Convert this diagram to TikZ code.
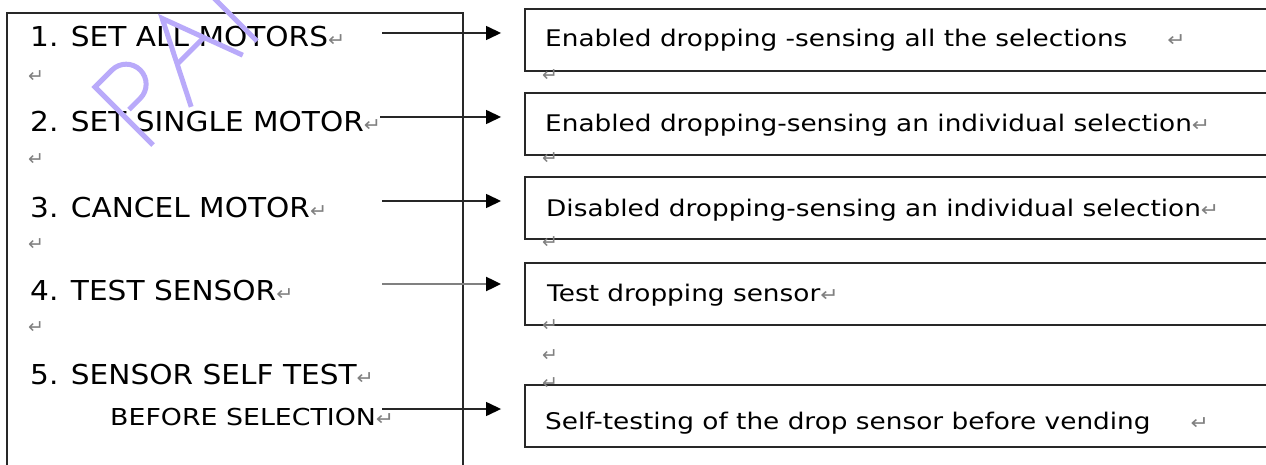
\documentclass[tikz,border=0pt]{standalone}
\usepackage{fontspec}
\setmainfont{DejaVu Sans}
\newfontfamily\lefttxt[FakeStretch=1.08]{DejaVu Sans}
\newfontfamily\righttxt[FakeStretch=1.15]{DejaVu Sans}
\usetikzlibrary{arrows.meta}
\definecolor{wm}{RGB}{185,170,250}
\definecolor{retgray}{RGB}{128,128,128}
\definecolor{boxline}{RGB}{40,40,40}
\newcommand\retmark{{\color{retgray}\fontsize{19}{19}\selectfont ↵}}
\begin{document}
\begin{tikzpicture}[x=1pt,y=-1pt,
  lt/.style={anchor=base west,inner sep=0pt,font=\lefttxt\fontsize{27.4}{30}\selectfont,text=black},
  st/.style={anchor=base west,inner sep=0pt,font=\righttxt\fontsize{23.3}{26}\selectfont,text=black},
  rt/.style={anchor=base west,inner sep=0pt,font=\righttxt\fontsize{22.9}{26}\selectfont,text=black},
  rm/.style={anchor=west,inner sep=0pt,font=\fontsize{19}{19}\selectfont,text=retgray},
  rbox/.style={draw=boxline,line width=1.9pt,minimum width=765pt,minimum height=62pt,inner sep=0pt},
  arr/.style={draw=black!85,line width=1.4pt,-{Triangle[length=15pt,width=14pt,color=black]},shorten >=23pt},
  wmline/.style={draw=wm,line width=5pt}]
\useasboundingbox (0,0) rectangle (1266,465);
\clip (0,0) rectangle (1266,465);
% left menu box
\node[draw=boxline,line width=1.9pt,minimum width=456pt,minimum height=467pt,inner sep=0pt] (menu) at (235,246.5) {};
\node[lt] (m1) at (30,47) {1. SET ALL MOTORS\retmark};
\node[rm] (n1) at (28,77) {↵};
\node[lt] (m2) at (30,132) {2. SET SINGLE MOTOR\retmark};
\node[rm] (n2) at (28,160) {↵};
\node[lt] (m3) at (30,218) {3. CANCEL MOTOR\retmark};
\node[rm] (n3) at (28,245) {↵};
\node[lt] (m4) at (30,300) {4. TEST SENSOR\retmark};
\node[rm] (n4) at (28,328) {↵};
\node[lt] (m5) at (30,384) {5. SENSOR SELF TEST\retmark};
\node[st] (m6) at (110,425) {BEFORE SELECTION\retmark};
% right boxes
\node[rbox] (r1) at (907.5,40) {};
\node[rbox] (r2) at (907.5,124) {};
\node[rbox] (r3) at (907.5,208) {};
\node[rbox] (r4) at (907.5,294) {};
\node[rbox] (r5) at (907.5,416) {};
\node[rt] (t1) at (545,47) {Enabled dropping -sensing all the selections\hspace{40pt}\retmark};
\node[rt] (t2) at (545,132) {Enabled dropping-sensing an individual selection\retmark};
\node[rt] (t3) at (546,217) {Disabled dropping-sensing an individual selection\retmark};
\node[rt] (t4) at (547,301) {Test dropping sensor\retmark};
\node[rt] (t5) at (545,429) {Self-testing of the drop sensor before vending\hspace{40pt}\retmark};
\node[rm] (k1) at (542,76) {↵};
\node[rm] (k2) at (542,159) {↵};
\node[rm] (k3) at (542,243) {↵};
\node[rm] (k4) at (542,326) {↵};
\node[rm] (k5) at (542,356) {↵};
\node[rm] (k6) at (542,384) {↵};
% arrows
\coordinate (s1) at (382,33);
\coordinate (s2) at (380,117);
\coordinate (s3) at (382,201);
\coordinate (s4) at (382,284);
\coordinate (s5) at (382,409);
\draw[arr] (s1) -- (s1 -| r1.west);
\draw[arr] (s2) -- (s2 -| r2.west);
\draw[arr] (s3) -- (s3 -| r3.west);
\draw[arr,draw=black!50,line width=2.2pt] (s4) -- (s4 -| r4.west);
\draw[arr] (s5) -- (s5 -| r5.west);
% watermark
\begin{scope}[shift={(153,145)},x={(0.7071pt,0.7071pt)},y={(-0.7071pt,0.7071pt)}]
  \draw[wmline] (0,0) -- (0,82) -- (24,82) arc[start angle=90,end angle=-90,radius=20] -- (8,42);
  \draw[wmline] (54,0) -- (96,83) -- (127,0);
  \draw[wmline] (74,40) -- (112,40);
  \draw[wmline] (147,0) -- (147,95);
\end{scope}
\end{tikzpicture}
\end{document}
